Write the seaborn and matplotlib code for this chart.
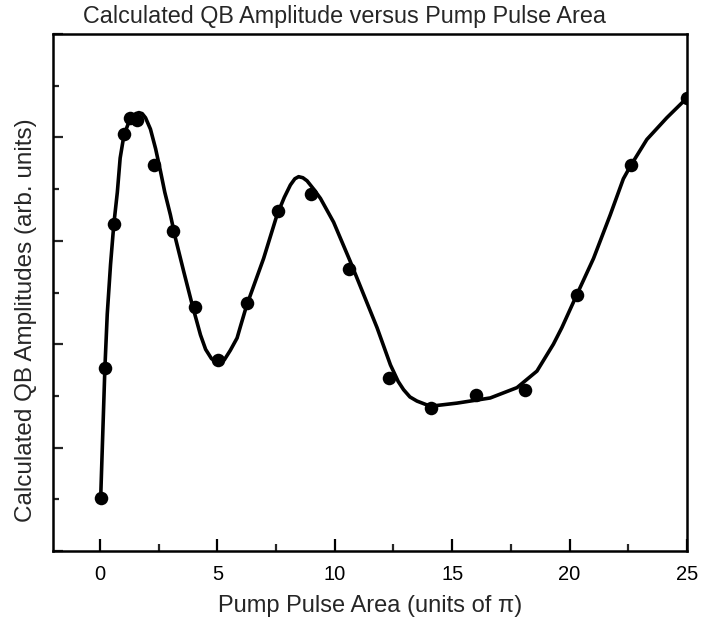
import matplotlib
matplotlib.use("Agg")
import matplotlib.pyplot as plt
from matplotlib.ticker import MultipleLocator, NullFormatter
import pandas as pd
import seaborn as sns

# Calculated QB amplitudes (arb. units) at each pump pulse area (units of pi)
pulse_area = [0.03, 0.21, 0.59, 1.02, 1.27, 1.59, 2.29, 3.10, 4.03, 5.03,
              6.27, 7.59, 9.00, 10.59, 12.29, 14.10, 16.03, 18.08, 20.31,
              22.61, 24.99]
qb_amplitude = [0.51, 1.77, 3.16, 4.03, 4.19, 4.17, 3.73, 3.09, 2.36, 1.85,
                2.40, 3.29, 3.45, 2.73, 1.67, 1.38, 1.51, 1.56, 2.48,
                3.73, 4.38]

# Smooth trend curve through the calculated amplitudes
curve_area = [0.03, 0.11, 0.21, 0.31, 0.45, 0.59, 0.74, 0.86, 1.02, 1.20,
              1.37, 1.52, 1.66, 1.80, 1.94, 2.15, 2.37, 2.58, 2.76, 3.00,
              3.22, 3.57, 3.93, 4.28, 4.50, 4.75, 5.03, 5.30, 5.55, 5.84,
              5.98, 6.24, 6.97, 7.54, 7.85, 8.11, 8.30, 8.46, 8.64, 8.82,
              9.10, 9.39, 9.95, 10.66, 11.23, 11.80, 12.37, 12.70, 12.93,
              13.20, 13.50, 14.07, 15.20, 16.62, 17.76, 18.61, 19.31, 19.67,
              20.31, 21.02, 21.73, 22.29, 22.61, 23.29, 24.14, 24.99]
curve_amplitude = [0.51, 1.07, 1.77, 2.29, 2.77, 3.16, 3.47, 3.80, 4.02, 4.13,
                   4.19, 4.23, 4.24, 4.23, 4.19, 4.08, 3.89, 3.67, 3.47, 3.25,
                   3.02, 2.70, 2.38, 2.09, 1.95, 1.86, 1.82, 1.85, 1.94, 2.06,
                   2.17, 2.37, 2.83, 3.25, 3.42, 3.54, 3.60, 3.62, 3.61, 3.58,
                   3.50, 3.41, 3.18, 2.80, 2.48, 2.16, 1.80, 1.64, 1.56,
                   1.49, 1.45, 1.40, 1.43, 1.48, 1.58, 1.74, 2.00, 2.16,
                   2.48, 2.83, 3.25, 3.60, 3.73, 3.98, 4.19, 4.38]

points = pd.DataFrame({"area": pulse_area, "amp": qb_amplitude})
curve = pd.DataFrame({"area": curve_area, "amp": curve_amplitude})

sns.set_theme(style="ticks")
plt.rcParams["font.family"] = ["Liberation Sans", "DejaVu Sans"]

fig = plt.figure(figsize=(7.01, 6.24), dpi=100)
ax = fig.add_axes([53 / 701, 73 / 624, 634 / 701, 517 / 624])

sns.lineplot(data=curve, x="area", y="amp", sort=False, color="black",
             linewidth=2.6, ax=ax, zorder=2)
sns.scatterplot(data=points, x="area", y="amp", color="black", s=95,
                edgecolor="black", linewidth=0, ax=ax, zorder=3)

ax.set_xlim(-2, 25)
ax.set_ylim(0, 5)

ax.xaxis.set_major_locator(MultipleLocator(5))
ax.xaxis.set_minor_locator(MultipleLocator(2.5))
ax.yaxis.set_major_locator(MultipleLocator(1))
ax.yaxis.set_minor_locator(MultipleLocator(0.5))
ax.yaxis.set_major_formatter(NullFormatter())

ax.tick_params(axis="x", which="major", direction="in", length=9, width=1.6,
               labelsize=14.5, pad=10, colors="black")
ax.tick_params(axis="x", which="minor", direction="in", length=5, width=1.6)
ax.tick_params(axis="y", which="major", direction="in", length=7.5, width=1.6)
ax.tick_params(axis="y", which="minor", direction="in", length=4.5, width=1.6)

for side in ["left", "right", "top", "bottom"]:
    ax.spines[side].set_visible(True)
    ax.spines[side].set_linewidth(1.8)
    ax.spines[side].set_color("black")

ax.set_xlabel("Pump Pulse Area (units of \u03c0)", fontsize=17, labelpad=8)
ax.set_ylabel("Calculated QB Amplitudes (arb. units)", fontsize=17.5)
ax.yaxis.set_label_coords(-0.025, 0.447)
fig.text(83 / 701, 1 - 23 / 624,
         "Calculated QB Amplitude versus Pump Pulse Area",
         fontsize=16.8, ha="left", va="baseline")

fig.savefig("out.png", dpi=100)
